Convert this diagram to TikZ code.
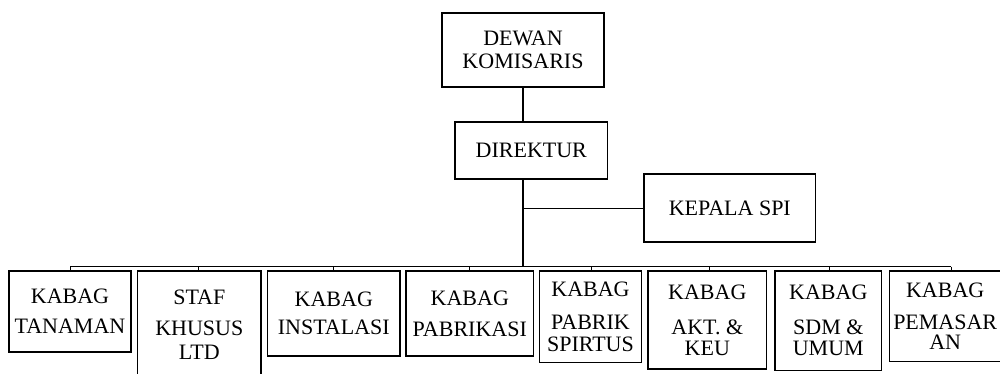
\documentclass[tikz,border=0pt]{standalone}
\usepackage{fontspec}
\setmainfont{Liberation Serif}
\begin{document}
\begin{tikzpicture}[x=1pt,y=-1pt,
  unit/.style={draw, line width=1.1pt, inner sep=0pt, align=center,
    font=\fontsize{22}{22}\selectfont},
  link/.style={line width=0.9pt},
  spine/.style={line width=2.2pt}]
\useasboundingbox (0,0) rectangle (1000,374);

% top of the hierarchy
\node[unit, minimum width=162pt, minimum height=74pt] (dk) at (523,50) {DEWAN\\[1pt]KOMISARIS};
\node[unit, minimum width=152.7pt, minimum height=57pt] (dir) at (531.3,150.5) {DIREKTUR};
\node[unit, minimum width=171.7pt, minimum height=68pt] (spi) at (729.8,208) {KEPALA SPI};

% department heads
\node[unit, minimum width=122pt, minimum height=81pt] (tan) at (70,311.5) {KABAG\\[8pt]TANAMAN};
\node[unit, minimum width=123.3pt, minimum height=107pt] (staf) at (199.3,324.5) {STAF\\[9.7pt]KHUSUS\\[1.3pt]LTD};
\node[unit, minimum width=132.3pt, minimum height=85pt] (ins) at (333.8,313.5) {KABAG\\[6pt]INSTALASI};
\node[unit, minimum width=127.7pt, minimum height=85pt] (pab) at (469.8,313.5) {KABAG\\[9pt]PABRIKASI};
\node[unit, minimum width=102.4pt, minimum height=91.7pt] (spr) at (590.5,316.8) {KABAG\\[11pt]PABRIK\\[0pt]SPIRTUS};
\node[unit, minimum width=118.7pt, minimum height=98pt] (akt) at (707.3,320) {KABAG\\[13pt]AKT. \&\\[-1pt]KEU};
\node[unit, minimum width=106.7pt, minimum height=99.7pt] (sdm) at (828.3,320.8) {KABAG\\[13pt]SDM \&\\[-1pt]UMUM};
\node[unit, minimum width=111.7pt, minimum height=90.7pt] (pem) at (945.2,316.3) {KABAG\\[10pt]PEMASAR\\[-2pt]AN};

% bus and drop points
\coordinate (bus) at (522.7,266.7);
\coordinate (d1) at (70,266.7);
\coordinate (d2) at (198,266.7);
\coordinate (d3) at (333,266.7);
\coordinate (d4) at (469,266.7);
\coordinate (d5) at (591,266.7);
\coordinate (d6) at (709,266.7);
\coordinate (d7) at (829,266.7);
\coordinate (d8) at (951,266.7);

% main line
\draw[spine] (dk.south) -- (dk.south |- dir.north);
\draw[spine] (dir.south -| bus) -- (bus);
\draw[link] (bus |- spi.west) -- (spi.west);

% distribution to departments
\draw[link] (d1) -- (d8);
\draw[link] (d1) -- (d1 |- tan.north);
\draw[link] (d2) -- (d2 |- staf.north);
\draw[link] (d3) -- (d3 |- ins.north);
\draw[link] (d4) -- (d4 |- pab.north);
\draw[link] (d5) -- (d5 |- spr.north);
\draw[link] (d6) -- (d6 |- akt.north);
\draw[link] (d7) -- (d7 |- sdm.north);
\draw[link] (d8) -- (d8 |- pem.north);
\end{tikzpicture}
\end{document}
